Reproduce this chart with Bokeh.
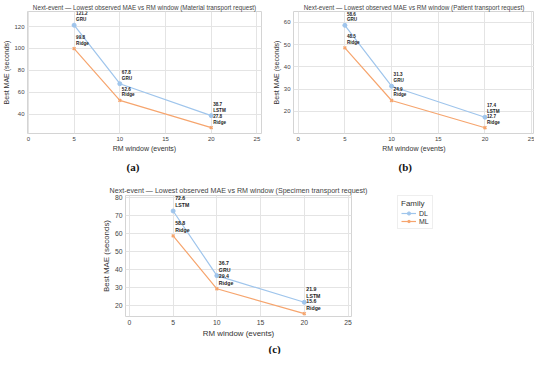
from bokeh.plotting import figure
from bokeh.layouts import column, row
from bokeh.models import Range1d, Title, Legend, LegendItem, ColumnDataSource, FixedTicker, Spacer
from bokeh.core.properties import value
from bokeh.embed import file_html
from bokeh.resources import INLINE

# ---------------- data ----------------
windows = [5, 10, 20]
x_ticks = [0, 5, 10, 15, 20, 25]

mat_dl = [121.2, 67.8, 38.7]
mat_dl_model = ["GRU", "GRU", "LSTM"]
mat_ml = [99.8, 52.6, 27.8]
mat_ml_model = ["Ridge", "Ridge", "Ridge"]
mat_yticks = [40, 60, 80, 100, 120]

pat_dl = [58.6, 31.3, 17.4]
pat_dl_model = ["GRU", "GRU", "LSTM"]
pat_ml = [48.5, 24.9, 12.7]
pat_ml_model = ["Ridge", "Ridge", "Ridge"]
pat_yticks = [20, 30, 40, 50, 60]

spe_dl = [72.6, 36.7, 21.9]
spe_dl_model = ["LSTM", "GRU", "LSTM"]
spe_ml = [58.8, 29.4, 15.6]
spe_ml_model = ["Ridge", "Ridge", "Ridge"]
spe_yticks = [20, 30, 40, 50, 60, 70, 80]

families = ["DL", "ML"]
legend_title = "Family"

# ---------------- style ----------------
BLUE = "#9fc5ec"
ORANGE = "#f6a56e"
SANS = "Liberation Sans"
SERIF = "Liberation Serif"
GRID = "#e4e4e4"
OUTLINE = "#d4d4d4"


def make_panel(title, caption, dl, dl_m, ml, ml_m, yticks, xr, yr, width, height,
               mbl, mbr, mbt, cap_offset, cap_standoff, scale):
    p = figure(width=width, height=height, x_range=Range1d(*xr), y_range=Range1d(*yr),
               output_backend="svg", toolbar_location=None,
               min_border_left=mbl, min_border_right=mbr,
               min_border_top=mbt, min_border_bottom=0)
    p.title.text = title
    p.title.align = "center"
    p.title.text_font = SANS
    p.title.text_font_size = f"{6.3 * scale:.1f}px"
    p.title.text_font_style = "normal"
    p.title.text_color = "#444444"
    p.title.standoff = 2

    p.outline_line_color = OUTLINE
    p.outline_line_width = 1
    p.background_fill_color = "white"
    p.border_fill_color = "white"

    p.xaxis.ticker = FixedTicker(ticks=x_ticks)
    p.yaxis.ticker = FixedTicker(ticks=yticks)
    for ax in (p.xaxis[0], p.yaxis[0]):
        ax.axis_line_color = None
        ax.major_tick_line_color = None
        ax.minor_tick_line_color = None
        ax.major_tick_out = 0
        ax.major_tick_in = 0
        ax.minor_tick_out = 0
        ax.minor_tick_in = 0
        ax.major_label_text_font = SANS
        ax.major_label_text_font_size = f"{6.0 * scale:.1f}px"
        ax.major_label_text_color = "#444444"
        ax.major_label_standoff = 3
        ax.axis_label_text_font = SANS
        ax.axis_label_text_font_size = f"{7.0 * scale:.1f}px"
        ax.axis_label_text_font_style = "normal"
        ax.axis_label_text_color = "#333333"
        ax.axis_label_standoff = 1
    p.xaxis.axis_label = "RM window (events)"
    p.yaxis.axis_label = "Best MAE (seconds)"
    p.xgrid.grid_line_color = GRID
    p.ygrid.grid_line_color = GRID
    p.xgrid.grid_line_width = 1
    p.ygrid.grid_line_width = 1

    src_dl = ColumnDataSource(dict(x=windows, y=dl,
                                   lab=[f"{v:.1f}\n{m}" for v, m in zip(dl, dl_m)]))
    src_ml = ColumnDataSource(dict(x=windows, y=ml,
                                   lab=[f"{v:.1f}\n{m}" for v, m in zip(ml, ml_m)]))

    p.line("x", "y", source=src_dl, line_color=BLUE, line_width=1.2)
    p.scatter("x", "y", source=src_dl, marker="circle", size=4,
              fill_color=BLUE, line_color=BLUE)
    p.line("x", "y", source=src_ml, line_color=ORANGE, line_width=1.2)
    p.scatter("x", "y", source=src_ml, marker="x", size=4,
              line_color=ORANGE, line_width=1.5)

    for src in (src_dl, src_ml):
        p.text("x", "y", text="lab", source=src, x_offset=2, y_offset=-3,
               text_font=value(SANS), text_font_size=f"{4.6 * scale:.1f}px",
               text_font_style="bold",
               text_color="#222222", text_align="left", text_baseline="bottom",
               text_line_height=1.15)

    cap = Title(text=caption, align="left", offset=cap_offset, text_font=SERIF,
                text_font_size="11px", text_font_style="bold", text_color="#111111",
                standoff=cap_standoff)
    p.add_layout(cap, "below")
    return p


pa = make_panel("Next-event \u2014 Lowest observed MAE vs RM window (Material transport request)",
                "(a)", mat_dl, mat_dl_model, mat_ml, mat_ml_model, mat_yticks,
                (-0.1, 25.5), (22.4, 133.7), 267, 176, 22, 6, 0, 99, 8, 1.0)
pb = make_panel("Next-event \u2014 Lowest observed MAE vs RM window (Patient transport request)",
                "(b)", pat_dl, pat_dl_model, pat_ml, pat_ml_model, pat_yticks,
                (-0.5, 25.3), (10.1, 64.8), 267, 176, 26, 0, 0, 105, 8, 1.0)
pc = make_panel("Next-event \u2014 Lowest observed MAE vs RM window (Specimen transport request)",
                "(c)", spe_dl, spe_dl_model, spe_ml, spe_ml_model, spe_yticks,
                (-0.45, 25.4), (14.0, 81.2), 276, 178, 28, 22, 18, 143, 0, 1.13)

# legend panel (separate canvas to the right of panel c)
lf = figure(width=60, height=178, x_range=Range1d(0, 1), y_range=Range1d(0, 1),
            output_backend="svg", toolbar_location=None,
            x_axis_location=None, y_axis_location=None,
            min_border_left=24, min_border_top=19, min_border_right=0, min_border_bottom=0)
lf.outline_line_color = None
lf.xgrid.visible = False
lf.ygrid.visible = False
# legend-only renderers: their points lie outside this canvas's visible range
off_dl = ColumnDataSource(dict(x=[5, 6], y=[5, 6]))
off_ml = ColumnDataSource(dict(x=[5, 6], y=[5, 6]))
g1 = lf.line("x", "y", source=off_dl, line_color=BLUE, line_width=1.2)
g2 = lf.scatter("x", "y", source=off_dl, marker="circle", size=4,
                fill_color=BLUE, line_color=BLUE)
g3 = lf.line("x", "y", source=off_ml, line_color=ORANGE, line_width=1.2)
g4 = lf.scatter("x", "y", source=off_ml, marker="x", size=4,
                line_color=ORANGE, line_width=1.5)
legend = Legend(items=[LegendItem(label=families[0], renderers=[g1, g2]),
                       LegendItem(label=families[1], renderers=[g3, g4])],
                title=legend_title, location="top_left", margin=0, padding=3, spacing=0,
                glyph_width=15, glyph_height=8, label_height=8, label_width=8,
                label_standoff=3,
                label_text_font=SANS, label_text_font_size="7px", label_text_color="#333333",
                title_text_font=SANS, title_text_font_size="8px", title_text_color="#333333",
                title_text_font_style="normal", title_standoff=1,
                border_line_color="#dddddd", background_fill_color="white")
lf.add_layout(legend, "center")

layout = column(row(pa, pb), row(Spacer(width=97, height=178), pc, lf))

open("out.html", "w").write(file_html(layout, INLINE))
